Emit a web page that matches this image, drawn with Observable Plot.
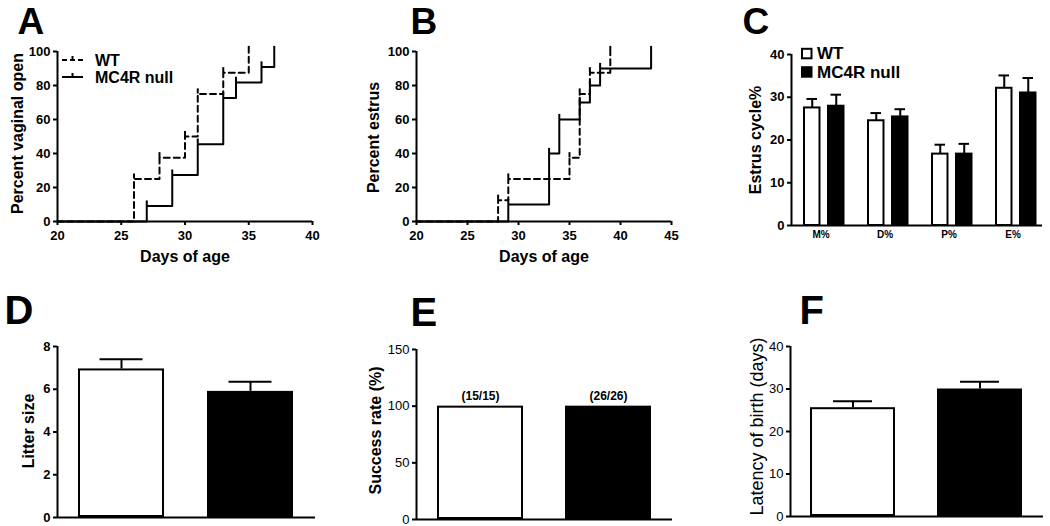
<!DOCTYPE html>
<html><head><meta charset="utf-8">
<script src="https://cdn.jsdelivr.net/npm/d3@7"></script>
<script src="https://cdn.jsdelivr.net/npm/@observablehq/plot@0.6"></script>
<style>
body{margin:0;background:#fff;}
#fig{position:relative;width:1050px;height:526px;overflow:hidden;background:#fff;}
#fig svg{position:absolute;background:transparent;overflow:visible;}
</style></head><body><div id="fig"></div>
<script>
const FONT = "Arial, 'Liberation Sans', sans-serif";
const groups = ["WT", "MC4R null"];

// Panel A: vaginal opening (cumulative %)
const aWtDays = [20, 26, 28, 30, 31, 33, 35];
const aWtPct  = [0, 25, 37.5, 50, 75, 87.5, 100];
const aKoDays = [20, 27, 29, 31, 33, 34, 36, 37];
const aKoPct  = [0, 9.1, 27.3, 45.5, 72.7, 81.8, 90.9, 100];
const aTicksX = [20, 25, 30, 35, 40];

// Panel B: first estrus (cumulative %)
const bWtDays = [20, 28, 29, 35, 36, 37, 39];
const bWtPct  = [0, 12.5, 25, 37.5, 75, 87.5, 100];
const bKoDays = [20, 29, 33, 34, 36, 37, 38, 43];
const bKoPct  = [0, 10, 40, 60, 70, 80, 90, 100];
const bTicksX = [20, 25, 30, 35, 40, 45];
const pctTicks = [0, 20, 40, 60, 80, 100];

// Panel C: estrus cycle %
const phases  = ["M%", "D%", "P%", "E%"];
const cWtMean = [27.5, 24.5, 16.7, 32.1];
const cWtSem  = [2.1, 1.8, 2.2, 3.0];
const cKoMean = [27.9, 25.4, 16.7, 31.0];
const cKoSem  = [2.7, 1.8, 2.4, 3.5];
const cTicks  = [0, 10, 20, 30, 40];

// Panel D: litter size
const litterMean = [6.95, 5.9];
const litterSem  = [0.45, 0.45];
const dTicks = [0, 2, 4, 6, 8];

// Panel E: success rate
const successRate  = [100, 100];
const successLabel = ["(15/15)", "(26/26)"];
const eTicks = [0, 50, 100, 150];

// Panel F: latency of birth
const latencyMean = [25.6, 30.0];
const latencySem  = [1.5, 1.7];
const fTicks = [0, 10, 20, 30, 40];

const fig = document.getElementById("fig");
function place(svg, left, top) {
  svg.style.left = left + "px";
  svg.style.top = top + "px";
  fig.appendChild(svg);
}
// vertical axis line at the left edge of the frame (rule centred in frame, shifted by half the frame width)
function leftAxisLine(frameWidth, y1, y2) {
  return Plot.ruleX([0], {x: null, y1, y2, dx: -frameWidth / 2, stroke: "#000", strokeWidth: 2});
}
function yTitle(label, dx, dy, size, weight) {
  return Plot.text([label], {text: d => d, frameAnchor: "left", textAnchor: "middle", lineAnchor: "middle",
    rotate: -90, dx, dy, fontSize: size, fontWeight: weight});
}
function letterMark(letter, dx, dy, size) {
  return Plot.text([letter], {text: d => d, frameAnchor: "top-left", textAnchor: "start", lineAnchor: "bottom",
    dx, dy, fontSize: size, fontWeight: "bold"});
}

function survival(o) {
  const wt = o.wtD.map((d, i) => ({day: d, pct: o.wtP[i]}));
  const ko = o.koD.map((d, i) => ({day: d, pct: o.koP[i]}));
  const ev = a => a.filter(d => d.pct > 0);
  return Plot.plot({
    width: o.width, height: 270,
    marginLeft: o.ml, marginRight: o.mr, marginTop: 51, marginBottom: 49,
    style: {fontFamily: FONT, fontSize: "13px", fontWeight: "bold", background: "transparent", color: "#000"},
    x: {domain: o.xDomain, label: null},
    y: {domain: [0, 100], label: null},
    marks: [
      Plot.axisX({ticks: o.xTicks, tickSize: 4, tickPadding: 5, strokeWidth: 2, label: null}),
      Plot.axisY({ticks: pctTicks, tickSize: 4, tickPadding: 3, strokeWidth: 2, label: null}),
      Plot.line(wt, {x: "day", y: "pct", curve: "step-after", stroke: "#000", strokeWidth: 2, strokeDasharray: "6,4"}),
      Plot.ruleX(ev(wt), {x: "day", y1: "pct", y2: d => d.pct + 3, stroke: "#000", strokeWidth: 2}),
      Plot.line(ko, {x: "day", y: "pct", curve: "step-after", stroke: "#000", strokeWidth: 2}),
      Plot.ruleX(ev(ko), {x: "day", y1: "pct", y2: d => d.pct + 3, stroke: "#000", strokeWidth: 2}),
      Plot.ruleX([o.xDomain[0]], {y1: 0, y2: 100, stroke: "#000", strokeWidth: 2}),
      Plot.ruleY([0], {stroke: "#000", strokeWidth: 2}),
      letterMark(o.letter, o.ldx, -17.5, 37),
      yTitle(o.yLabel, o.ydx, o.ydy, 16, "bold"),
      Plot.text(["Days of age"], {text: d => d, frameAnchor: "bottom", lineAnchor: "bottom", dy: 40, fontSize: 16, fontWeight: "bold"})
    ]
  });
}

place(survival({width: 340, ml: 57, mr: 28, xDomain: [20, 40], xTicks: aTicksX,
  wtD: aWtDays, wtP: aWtPct, koD: aKoDays, koP: aKoPct,
  letter: "A", ldx: -40, yLabel: "Percent vaginal open", ydx: -40, ydy: -3}), 0, 0);

place(survival({width: 350, ml: 76, mr: 19, xDomain: [20, 45], xTicks: bTicksX,
  wtD: bWtDays, wtP: bWtPct, koD: bKoDays, koP: bKoPct,
  letter: "B", ldx: -6, yLabel: "Percent estrus", ydx: -43, ydy: 1}), 340, 0);

// Panel C
const cData = phases.flatMap((p, i) => [
  {phase: p, group: "WT", mean: cWtMean[i], sem: cWtSem[i]},
  {phase: p, group: "MC4R null", mean: cKoMean[i], sem: cKoSem[i]}
]);
const cWt = cData.filter(d => d.group === "WT");
const cKo = cData.filter(d => d.group === "MC4R null");
place(Plot.plot({
  width: 370, height: 270, marginLeft: 111, marginRight: 8, marginTop: 54, marginBottom: 45,
  style: {fontFamily: FONT, fontSize: "13px", fontWeight: "bold", background: "transparent", color: "#000"},
  x: {domain: phases, paddingInner: 0.109, paddingOuter: 0, label: null},
  y: {domain: [0, 40], label: null},
  marks: [
    Plot.axisX({tickSize: 0, tickPadding: 5, fontSize: 10, label: null}),
    Plot.axisY({ticks: cTicks, tickSize: 4, tickPadding: 3, strokeWidth: 2, label: null}),
    Plot.ruleX(cWt, {x: "phase", y1: "mean", y2: d => d.mean + d.sem, dx: -8.75, stroke: "#000", strokeWidth: 2}),
    Plot.tickY(cWt, {x: "phase", y: d => d.mean + d.sem, insetLeft: 14.5, insetRight: 32, stroke: "#000", strokeWidth: 2}),
    Plot.ruleX(cKo, {x: "phase", y1: "mean", y2: d => d.mean + d.sem, dx: 15.25, stroke: "#000", strokeWidth: 2}),
    Plot.tickY(cKo, {x: "phase", y: d => d.mean + d.sem, insetLeft: 38.5, insetRight: 8, stroke: "#000", strokeWidth: 2}),
    Plot.barY(cWt, {x: "phase", y: "mean", insetLeft: 12, insetRight: 29.5, fill: "#fff", stroke: "#000", strokeWidth: 2}),
    Plot.barY(cKo, {x: "phase", y: "mean", insetLeft: 36, insetRight: 5.5, fill: "#000", stroke: "#000", strokeWidth: 2}),
    leftAxisLine(370 - 111 - 8, 0, 40),
    Plot.ruleY([0], {stroke: "#000", strokeWidth: 2}),
    letterMark("C", -49, -20.5, 37),
    yTitle("Estrus cycle%", -36, 0, 16, "bold")
  ]
}), 680, 0);

// Bar panels D, E, F
function barPanel(o) {
  const data = groups.map((g, i) => ({group: g, mean: o.means[i], sem: o.sems ? o.sems[i] : 0, label: o.labels ? o.labels[i] : ""}));
  const marks = [
    Plot.axisY({ticks: o.ticks, tickSize: 4, tickPadding: 3, strokeWidth: 2, label: null, fontWeight: o.weight}),
  ];
  if (o.sems) {
    marks.push(
      Plot.ruleX(data, {x: "group", y1: "mean", y2: d => d.mean + d.sem, stroke: "#000", strokeWidth: 2}),
      Plot.tickY(data, {x: "group", y: d => d.mean + d.sem, insetLeft: o.cap, insetRight: o.cap, stroke: "#000", strokeWidth: 2})
    );
  }
  marks.push(
    Plot.barY(data, {x: "group", y: "mean", inset: 1, fill: (d, i) => i === 0 ? "#fff" : "#000", stroke: "#000", strokeWidth: 2}),
    Plot.ruleY([0], {stroke: "#000", strokeWidth: 2}),
    leftAxisLine(o.width - o.ml - o.mr, o.ydomain[0], o.ydomain[1]),
    letterMark(o.letter, o.ldx, o.ldy, 40),
    yTitle(o.yLabel, o.ydx, o.ydy, o.yFont, o.yWeight)
  );
  if (o.labels) {
    marks.push(Plot.text(data, {x: "group", y: "mean", text: "label", lineAnchor: "bottom", dy: -6, fontSize: 12, fontWeight: "bold"}));
  }
  return Plot.plot({
    width: o.width, height: 256, marginLeft: o.ml, marginRight: o.mr, marginTop: o.mt, marginBottom: o.mb,
    style: {fontFamily: FONT, fontSize: o.tickFont + "px", fontWeight: o.weight, background: "transparent", color: "#000"},
    x: {domain: groups, paddingInner: 0.33, paddingOuter: 0.16, axis: null, label: null},
    y: {domain: o.ydomain, label: null},
    marks
  });
}

place(barPanel({width: 340, ml: 57, mr: 25, mt: 76, mb: 9, means: litterMean, sems: litterSem, cap: 21.5,
  ydomain: [0, 8], ticks: dTicks, weight: "bold", tickFont: 13,
  letter: "D", ldx: -53, ldy: -23, yLabel: "Litter size", ydx: -29, ydy: -1, yFont: 16, yWeight: "bold"}), 0, 270);

place(barPanel({width: 350, ml: 76, mr: 18, mt: 79, mb: 7, means: successRate, labels: successLabel,
  ydomain: [0, 150], ticks: eTicks, weight: "normal", tickFont: 13,
  letter: "E", ldx: -6, ldy: -24, yLabel: "Success rate (%)", ydx: -41, ydy: -4, yFont: 16, yWeight: "bold"}), 340, 270);

place(barPanel({width: 350, ml: 90, mr: 7, mt: 76, mb: 10, means: latencyMean, sems: latencySem, cap: 23,
  ydomain: [0, 40], ticks: fTicks, weight: "normal", tickFont: 13,
  letter: "F", ldx: 9, ldy: -23, yLabel: "Latency of birth (days)", ydx: -33, ydy: -5, yFont: 18, yWeight: "normal"}), 700, 270);

// Legends (panel A and panel C)
const leg = d3.select(fig).append("svg")
  .attr("width", 1050).attr("height", 526)
  .style("left", "0px").style("top", "0px")
  .style("font-family", FONT).style("font-weight", "bold");

const legA = [{label: groups[0], y: 60, dash: "5,3"}, {label: groups[1], y: 77, dash: null}];
legA.forEach(d => {
  leg.append("line").attr("x1", 62).attr("x2", 83).attr("y1", d.y).attr("y2", d.y)
    .attr("stroke", "#000").attr("stroke-width", 2).attr("stroke-dasharray", d.dash);
  leg.append("line").attr("x1", 72.5).attr("x2", 72.5).attr("y1", d.y - 4).attr("y2", d.y)
    .attr("stroke", "#000").attr("stroke-width", 2);
  leg.append("text").attr("x", 95).attr("y", d.y).attr("dy", "0.36em").style("font-size", "16px").text(d.label);
});

const legC = [{label: groups[0], y: 53.3, fill: "#fff"}, {label: groups[1], y: 71.7, fill: "#000"}];
legC.forEach(d => {
  leg.append("rect").attr("x", 802).attr("y", d.y - 4.5).attr("width", 9.5).attr("height", 9.5)
    .attr("fill", d.fill).attr("stroke", "#000").attr("stroke-width", 2);
  leg.append("text").attr("x", 817).attr("y", d.y).attr("dy", "0.36em").style("font-size", "17px").text(d.label);
});
</script>
</body></html>
